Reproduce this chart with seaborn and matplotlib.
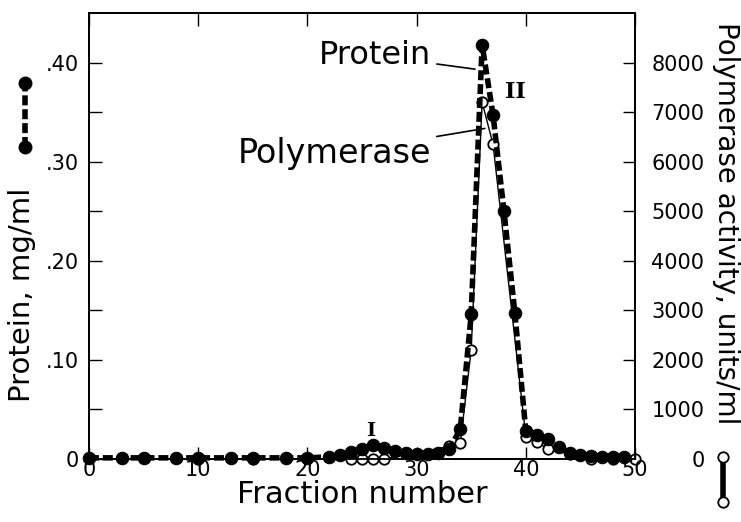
import matplotlib
matplotlib.use("Agg")
import matplotlib.pyplot as plt
import seaborn as sns
from matplotlib.lines import Line2D

sns.set_style("ticks")
plt.rcParams['font.family'] = ['DejaVu Sans']
plt.rcParams.update({'text.color': 'black', 'axes.labelcolor': 'black',
                     'xtick.color': 'black', 'ytick.color': 'black',
                     'axes.edgecolor': 'black'})

# protein (filled circles, dashed) in mg/ml
prot_frac = [0, 3, 5, 8, 10, 13, 15, 18, 20, 22, 23, 24, 25, 26, 27, 28, 29, 30,
             31, 32, 33, 34, 35, 36, 37, 38, 39, 40, 41, 42, 43, 44, 45, 46, 47, 48, 49]
prot_mg = [0.001, 0.001, 0.001, 0.001, 0.001, 0.001, 0.001, 0.001, 0.001, 0.002,
           0.004, 0.007, 0.010, 0.014, 0.011, 0.008, 0.006, 0.005, 0.005, 0.006,
           0.010, 0.030, 0.146, 0.418, 0.347, 0.250, 0.147, 0.028, 0.024, 0.020,
           0.012, 0.006, 0.004, 0.003, 0.002, 0.002, 0.002]

# polymerase (open circles, thin solid) in units/ml
pol_frac = [10, 15, 24, 25, 26, 27, 33, 34, 35, 36, 37, 40, 41, 42, 44, 46, 48, 50]
pol_units = [0, 0, 0, 0, 0, 0, 250, 320, 2200, 7200, 6350, 450, 350, 200,
             100, 0, 0, 0]

x_ticks = [0, 10, 20, 30, 40, 50]
prot_ticks = [0, 0.10, 0.20, 0.30, 0.40]
prot_tick_labels = ["0", ".10", ".20", ".30", ".40"]
pol_ticks = [0, 1000, 2000, 3000, 4000, 5000, 6000, 7000, 8000]

fig, ax = plt.subplots(figsize=(7.41, 5.22), dpi=100)
fig.subplots_adjust(left=0.12, right=0.857, top=0.975, bottom=0.121)
ax2 = ax.twinx()

sns.lineplot(x=prot_frac, y=prot_mg, ax=ax, color="black", linewidth=4,
             linestyle=(0, (1.8, 0.7)), marker="o", markersize=9,
             markeredgecolor="black", markerfacecolor="black", clip_on=False, zorder=3)
sns.lineplot(x=pol_frac, y=pol_units, ax=ax2, color="black", linewidth=1,
             marker="o", markersize=7.5, markeredgecolor="black", markeredgewidth=1.3,
             markerfacecolor="white", clip_on=False, zorder=4)

ax.set_zorder(ax2.get_zorder() + 1)
ax.patch.set_visible(False)

ax.set_xlim(0, 50)
ax.set_ylim(0, 0.45)
ax2.set_ylim(0, 9000)

ax.set_xticks(x_ticks)
ax.set_yticks(prot_ticks)
ax.set_yticklabels(prot_tick_labels)
ax.set_yticks([0.05, 0.15, 0.25, 0.35], minor=True)
ax2.set_yticks(pol_ticks)

ax.tick_params(axis="both", which="both", direction="in", length=9, width=1,
               labelsize=15, top=True)
ax.tick_params(axis="x", pad=1)
ax.tick_params(axis="y", pad=7)
ax2.tick_params(axis="y", direction="in", length=9, width=1, labelsize=15, pad=50)
for lab in ax2.get_yticklabels():
    lab.set_horizontalalignment("right")

for a in (ax, ax2):
    for s in a.spines.values():
        s.set_linewidth(1.3)
        s.set_visible(True)

ax.set_xlabel("Fraction number", fontsize=22, labelpad=0)
ax.set_ylabel("Protein, mg/ml", fontsize=21, va="center")
ax.yaxis.set_label_coords(-0.123, 0.368)
ax2.set_ylabel("Polymerase activity, units/ml", fontsize=20, rotation=270, va="center")
ax2.yaxis.set_label_coords(1.167, 0.529)

# curve labels
ax.annotate("Protein", xy=(35.6, 0.393), xytext=(31.3, 0.407), fontsize=23,
            ha="right", va="center", arrowprops=dict(arrowstyle="-", lw=1.2, color="black"))
ax.annotate("Polymerase", xy=(36.5, 0.334), xytext=(31.3, 0.308), fontsize=24,
            ha="right", va="center", arrowprops=dict(arrowstyle="-", lw=1.2, color="black"))
ax.text(39.0, 0.37, "II", fontsize=16, family="DejaVu Serif", weight="bold",
        ha="center", va="center")
ax.text(25.8, 0.028, "I", fontsize=14, family="DejaVu Serif", weight="bold",
        ha="center", va="center")

# key symbols next to the axis labels
ax.add_line(Line2D([-0.117, -0.117], [0.700, 0.843], transform=ax.transAxes,
                   color="black", lw=4, linestyle=(0, (1.8, 0.7)), marker="o",
                   markersize=9, clip_on=False))
ax.add_line(Line2D([1.161, 1.161], [-0.096, 0.005], transform=ax.transAxes,
                   color="black", lw=4, marker="o", markersize=7.5,
                   markerfacecolor="white", markeredgewidth=1.3, clip_on=False))

fig.savefig("out.png", dpi=100)
